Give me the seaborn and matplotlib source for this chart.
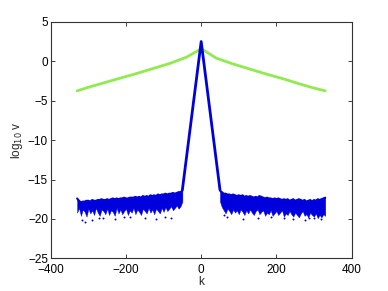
import numpy as np
import pandas as pd
import matplotlib
matplotlib.use("Agg")
import matplotlib.pyplot as plt
import seaborn as sns

# ---- data ----
green_k = [-330, -300, -260, -220, -175, -130, -85, -40, -10, 0,
           10, 40, 85, 130, 175, 220, 260, 300, 330]
green_v = [-3.75, -3.3, -2.75, -2.2, -1.6, -0.95, -0.3, 0.5, 1.3, 1.6,
           1.3, 0.4, -0.35, -1.0, -1.65, -2.25, -2.85, -3.4, -3.75]

peak_k = [-50, 0, 50]
peak_v = [-16.3, 2.5, -16.3]

floor_left_k = list(range(-330, -49, 5))
floor_left_top = [-17.4, -17.7, -17.9, -17.8, -17.8, -17.7, -17.7, -17.8, -17.6, -17.7,
                  -17.7, -17.6, -17.6, -17.5, -17.6, -17.6, -17.5, -17.6, -17.5, -17.4,
                  -17.5, -17.4, -17.5, -17.4, -17.4, -17.3, -17.4, -17.4, -17.3, -17.3,
                  -17.3, -17.2, -17.3, -17.2, -17.3, -17.1, -17.2, -17.1, -17.2, -17.0,
                  -17.1, -17.0, -17.1, -16.9, -17.0, -16.9, -16.9, -16.8, -16.9, -16.8,
                  -16.8, -16.7, -16.8, -16.7, -16.6, -16.6, -16.4]
floor_left_bot = [-19.2, -18.6, -19.6, -18.8, -19.1, -19.7, -18.7, -19.3, -18.9, -19.5,
                  -18.6, -19.2, -19.6, -18.8, -19.0, -19.4, -18.7, -19.5, -18.9, -19.1,
                  -19.6, -18.6, -19.3, -18.8, -19.4, -19.0, -18.7, -19.5, -18.9, -19.2,
                  -18.6, -19.4, -18.8, -19.1, -19.5, -18.7, -19.0, -19.3, -18.6, -19.2,
                  -18.8, -19.4, -18.7, -19.0, -19.3, -18.6, -19.1, -18.5, -19.0, -18.7,
                  -18.4, -18.9, -18.6, -18.3, -18.7, -18.4, -17.8]

floor_right_k = list(range(50, 331, 5))
floor_right_top = [-16.4, -16.6, -16.8, -16.8, -16.9, -16.9, -17.0, -16.9, -17.0, -17.1,
                   -17.0, -17.1, -17.0, -17.2, -17.1, -17.2, -17.1, -17.2, -17.3, -17.2,
                   -17.3, -17.1, -17.2, -17.3, -17.4, -17.3, -17.4, -17.4, -17.5, -17.4,
                   -17.5, -17.4, -17.5, -17.6, -17.5, -17.6, -17.5, -17.7, -17.6, -17.5,
                   -17.7, -17.6, -17.5, -17.6, -17.7, -17.6, -17.8, -17.7, -17.6, -17.8,
                   -17.6, -17.7, -17.5, -17.6, -17.5, -17.4, -17.3]
floor_right_bot = [-17.8, -18.5, -18.9, -19.3, -18.7, -19.0, -19.4, -18.8, -19.2, -18.9,
                   -19.4, -18.8, -19.1, -19.5, -18.9, -19.3, -18.8, -19.2, -19.5, -19.0,
                   -18.8, -19.4, -19.1, -18.9, -19.6, -19.2, -19.4, -18.9, -19.6, -19.3,
                   -19.0, -19.5, -19.2, -18.9, -19.7, -19.3, -19.5, -19.0, -19.4, -19.7,
                   -19.2, -19.5, -19.8, -19.3, -19.0, -19.6, -19.4, -19.8, -19.2, -19.5,
                   -19.7, -19.3, -19.9, -19.5, -19.8, -19.4, -19.6]

dots_k = [-318, -310, -290, -272, -260, -230, -205, -190, -150, -120, -95, -80,
          62, 70, 110, 150, 185, 220, 245, 275, 288, 300, 320]
dots_v = [-20.1, -20.4, -20.1, -19.9, -19.9, -20.0, -19.8, -19.8, -19.9, -20.0, -19.7, -19.9,
          -19.5, -19.8, -20.0, -19.9, -19.8, -19.9, -20.0, -20.1, -19.9, -19.9, -20.0]

x_ticks = [-400, -200, 0, 200, 400]
y_ticks = [-25, -20, -15, -10, -5, 0, 5]

# ---- plot ----
sns.set_style("white")
plt.rcParams['font.family'] = ['Liberation Sans', 'DejaVu Sans']
plt.rcParams['axes.unicode_minus'] = True

fig = plt.figure(figsize=(3.88, 2.91), dpi=100)
ax = fig.add_axes([0.131, 0.112, 0.775, 0.813])

blue = '#0000dd'
green = '#90ea50'

sns.lineplot(x=green_k, y=green_v, ax=ax, color=green, linewidth=2.0, sort=False)

for k, top, bot in [(floor_left_k, floor_left_top, floor_left_bot),
                    (floor_right_k, floor_right_top, floor_right_bot)]:
    ax.fill_between(k, bot, top, color=blue, linewidth=0.3, edgecolor=blue)
    sns.lineplot(x=k, y=top, ax=ax, color=blue, linewidth=1.5, sort=False)

sns.lineplot(x=peak_k, y=peak_v, ax=ax, color=blue, linewidth=2.0, sort=False)
sns.scatterplot(x=dots_k, y=dots_v, ax=ax, color=blue, s=2, linewidth=0)

ax.set_xlim(-400, 400)
ax.set_ylim(-25, 5)
ax.set_xticks(x_ticks)
ax.set_yticks(y_ticks)
ax.tick_params(direction='in', length=3, width=0.6, labelsize=8.5, pad=2,
               top=True, right=True, bottom=True, left=True, colors='#222222')
ax.tick_params(axis='x', pad=4)
ax.tick_params(labelcolor='black')
for s in ax.spines.values():
    s.set_color('#333333')
    s.set_linewidth(0.8)
ax.set_xlabel('k', fontsize=8.5, labelpad=0)
ax.set_ylabel('log$_{10}$ v', fontsize=8.5, labelpad=2)

fig.savefig('out.png', dpi=100)
